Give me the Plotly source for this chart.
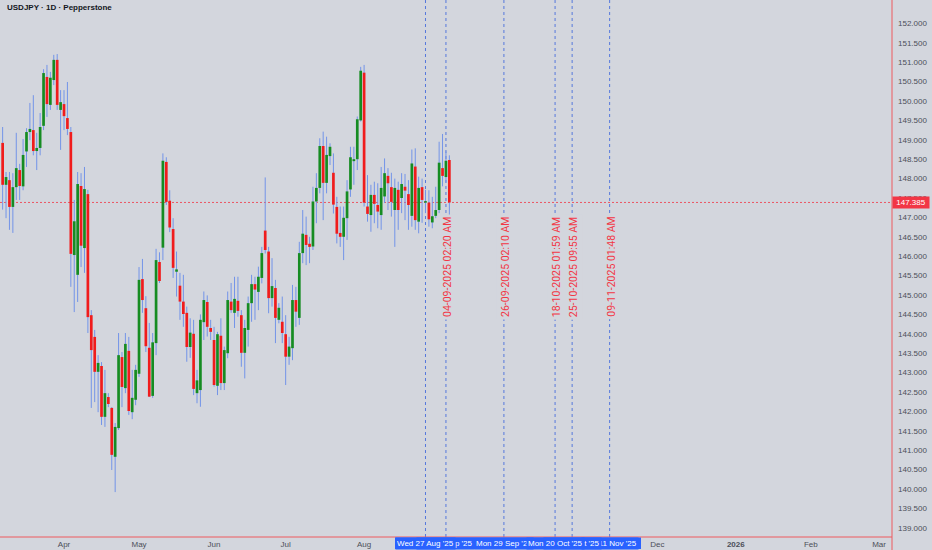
import pandas as pd
import plotly.graph_objects as go

TITLE = "USDJPY · 1D · Pepperstone"
START = "2025-03-06"
LAST_PRICE = 147.385

open_ = [
    148.92, 147.84, 147.96, 147.27, 147.78, 148.22, 147.80, 148.70, 149.20, 149.25, 148.71, 148.79,
    149.36, 150.62, 149.90, 150.54, 151.06, 149.77,
    149.92, 149.56, 149.20, 146.03, 145.52, 147.81, 146.21, 147.60, 144.48, 143.92, 143.02, 143.17,
    141.86, 142.37, 142.09, 140.83, 141.57, 143.40, 142.60, 143.56, 141.98, 142.30,
    142.97, 145.41, 144.66, 143.64, 142.40, 143.76, 145.85, 146.22, 148.43, 147.43, 146.70, 145.60,
    145.24, 144.83, 144.54, 143.66, 144.00, 142.47, 142.55, 144.30, 144.82, 144.15,
    143.84, 142.66, 143.95, 142.73, 143.50, 144.83, 144.54, 144.85, 144.48, 143.51, 144.10, 144.79,
    145.28, 145.08, 145.44, 146.66, 146.12, 144.92, 145.18, 144.36, 144.31,
    143.99, 143.41, 143.63, 144.87, 144.41, 146.08, 146.55, 146.32, 146.25, 147.41, 147.76, 148.84,
    147.89, 148.58, 148.15, 147.27, 146.60, 146.50, 146.98, 147.72, 148.45, 148.50, 149.50,
    150.73, 147.28, 147.06, 147.58, 147.32, 147.06, 147.54, 148.07, 147.78, 147.19, 147.71, 147.50,
    147.79, 147.60, 147.04, 148.31, 146.89, 147.78, 147.38, 147.38, 146.87,
    147.04, 147.19, 148.27, 148.04, 148.48,
]
high_ = [
    149.33, 148.17, 148.17, 148.14, 149.18, 148.38, 149.02, 149.30, 149.95, 150.15, 149.18, 149.69,
    150.82, 150.93, 150.75, 151.19, 151.21, 150.28,
    150.28, 150.49, 149.33, 147.45, 148.17, 148.14, 148.30, 147.71, 144.61, 144.10, 143.45, 143.27,
    143.07, 142.47, 142.11, 141.70, 144.02, 143.53, 144.02, 143.92, 143.07, 143.20,
    145.72, 145.93, 144.97, 144.28, 144.02, 146.19, 146.10, 148.65, 148.55, 147.70, 146.98, 146.12,
    145.57, 145.52, 144.70, 144.40, 144.36, 143.07, 144.50, 145.09, 144.99, 144.36,
    144.18, 144.05, 144.40, 143.67, 145.09, 145.31, 145.47, 145.47, 144.61, 144.36, 144.96, 145.52,
    145.47, 145.73, 146.24, 148.03, 146.24, 145.95, 145.39, 144.79, 144.96,
    144.48, 143.92, 145.26, 145.21, 146.37, 147.19, 147.02, 146.50, 147.79, 148.14, 149.04, 149.21,
    149.08, 148.91, 148.65, 147.53, 147.28, 147.28, 147.96, 148.82, 148.82, 149.60, 150.88,
    150.93, 148.09, 147.84, 147.92, 147.88, 148.30, 148.52, 148.27, 148.15, 148.00, 147.92, 148.14,
    148.12, 147.96, 148.75, 148.78, 148.05, 148.00, 147.71, 147.70, 147.53,
    147.79, 148.95, 149.15, 148.70, 148.60,
]
low_ = [
    147.20, 146.98, 146.68, 146.60, 147.45, 147.45, 147.70, 148.30, 148.99, 148.60, 148.22, 148.60,
    149.25, 149.59, 149.77, 150.41, 149.77, 148.74,
    149.25, 149.12, 145.21, 144.56, 144.82, 145.72, 145.57, 144.02, 142.09, 142.24, 141.98, 141.65,
    141.60, 142.11, 140.49, 139.92, 141.52, 142.11, 142.47, 141.91, 141.80, 142.16,
    142.89, 144.54, 143.53, 142.37, 142.35, 143.45, 145.31, 145.90, 147.32, 146.62, 145.44, 144.96,
    144.36, 144.18, 143.28, 143.38, 142.42, 142.21, 142.12, 143.84, 143.93, 143.84,
    142.64, 142.42, 142.55, 142.55, 143.37, 144.54, 144.15, 144.44, 143.15, 142.85, 143.67, 144.31,
    144.36, 144.61, 145.30, 146.07, 144.53, 144.70, 143.76, 144.27, 143.76,
    142.68, 143.20, 143.32, 144.18, 144.23, 145.82, 145.77, 145.82, 146.16, 146.85, 147.62, 146.93,
    147.62, 148.35, 147.10, 146.33, 146.24, 145.90, 146.42, 147.53, 147.84, 148.22, 149.47,
    147.28, 146.89, 146.63, 146.85, 146.72, 146.68, 147.37, 147.19, 147.02, 146.24, 146.68, 147.11,
    146.93, 146.68, 146.76, 146.68, 146.59, 146.86, 147.11, 146.76, 146.72,
    146.98, 147.11, 147.80, 147.90, 146.98,
]
close_ = [
    147.84, 148.04, 147.27, 147.78, 148.27, 147.81, 148.61, 149.20, 149.28, 148.71, 148.79, 149.33,
    150.72, 149.92, 150.60, 151.06, 149.90, 149.97,
    149.61, 149.28, 146.06, 146.90, 147.86, 146.27, 147.73, 144.43, 143.58, 143.02, 143.25, 141.86,
    142.47, 142.19, 140.88, 141.60, 143.45, 142.63, 143.74, 142.01, 142.35, 143.07,
    145.39, 144.87, 143.68, 142.38, 143.78, 145.90, 145.36, 148.46, 147.40, 146.74, 145.70, 145.66,
    144.83, 144.51, 143.66, 144.03, 142.58, 142.80, 144.36, 144.87, 144.18, 144.05,
    142.68, 143.99, 142.73, 143.58, 144.87, 144.61, 144.90, 144.59, 143.51, 144.15, 144.79, 145.28,
    145.14, 145.47, 146.08, 146.16, 144.92, 145.23, 144.41, 144.67, 144.02,
    143.41, 143.67, 144.87, 144.57, 146.08, 146.58, 146.29, 146.24, 147.41, 147.76, 148.84, 147.89,
    148.61, 148.82, 147.33, 146.58, 146.50, 146.99, 147.67, 148.55, 148.50, 149.53, 150.78,
    147.38, 147.09, 147.58, 147.35, 147.15, 147.76, 148.14, 147.88, 147.40, 147.76, 147.19, 147.86,
    147.69, 147.32, 148.39, 146.93, 147.76, 147.45, 147.42, 146.95, 147.03,
    147.19, 148.41, 148.07, 148.46, 147.385,
]

line_dates = ["2025-08-27", "2025-09-04", "2025-09-29", "2025-10-20", "2025-10-27", "2025-11-11"]
line_texts = ["", "04-09-2025 02:20 AM", "26-09-2025 02:10 AM", "18-10-2025 01:59 AM",
              "25-10-2025 09:55 AM", "09-11-2025 01:48 AM"]
line_axis_labels = ["Wed 27 Aug '25", "Thu 04 Sep '25", "Mon 29 Sep '25", "Mon 20 Oct '25",
                    "Mon 27 Oct '25", "Tue 11 Nov '25"]
label_draw_order = [5, 4, 2, 1, 3, 0]  # bottom-most first
LABEL_PRICE = 145.72

month_ticks = ["2025-04-01", "2025-05-01", "2025-06-02", "2025-07-01", "2025-08-01",
               "2025-12-01", "2026-01-01", "2026-02-02", "2026-03-02"]
month_labels = ["Apr", "May", "Jun", "Jul", "Aug", "Dec", "<b>2026</b>", "Feb", "Mar"]

price_ticks = [139.0 + 0.5 * i for i in range(28)]
price_labels = [f"{v:.3f}" for v in price_ticks]

# ---------------- styling ----------------
BG = "#d3d6dd"
UP = "#168c22"
DOWN = "#f01c1c"
WICK = "#7394e8"
RED = "#f23645"
DASH_BLUE = "#5578dc"
AXIS_TXT = "#4c4f59"
FONT = "Liberation Sans, Arial, sans-serif"
W, H = 932, 550
ML, MR, MT, MB = 0, 40, 0, 13
PW, PH = W - ML - MR, H - MT - MB
PX_PER_PRICE = 38.8
BODY_PX = 2.7

HALF = pd.Timedelta(hours=12)
DAY = pd.Timedelta(days=1)
dates = pd.bdate_range(START, periods=len(close_)) + HALF
all_days = pd.bdate_range(START, periods=262) + HALF
x_left = dates[0] - 0.77 * DAY
x_right = all_days[260] + 0.8 * DAY

fig = go.Figure()

# wicks
wx, wy = [], []
for d, lo, hi in zip(dates, low_, high_):
    wx += [d, d, None]
    wy += [lo, hi, None]
fig.add_trace(go.Scatter(x=wx, y=wy, mode="lines", line=dict(color=WICK, width=1),
                         hoverinfo="skip", showlegend=False))

# bodies (thick line segments, drawn after the wicks so they sit on top)
MIN_BODY = 0.03
for up, color in ((True, UP), (False, DOWN)):
    bx, by = [], []
    for d, o, c in zip(dates, open_, close_):
        if (c >= o) != up:
            continue
        lo, hi = min(o, c), max(o, c)
        if hi - lo < MIN_BODY:
            mid = (hi + lo) / 2
            lo, hi = mid - MIN_BODY / 2, mid + MIN_BODY / 2
        bx += [d, d, None]
        by += [lo, hi, None]
    fig.add_trace(go.Scatter(x=bx, y=by, mode="lines", line=dict(color=color, width=BODY_PX),
                             hoverinfo="skip", showlegend=False))

shapes = []
annotations = []

# last price line
shapes.append(dict(type="line", xref="paper", x0=0, x1=1, yref="y", y0=LAST_PRICE, y1=LAST_PRICE,
                   line=dict(color=RED, width=1, dash="2px,2px"), opacity=0.8, layer="below"))

# vertical dashed lines
for d in line_dates:
    xd = pd.Timestamp(d) + HALF
    shapes.append(dict(type="line", xref="x", x0=xd, x1=xd, yref="paper", y0=0, y1=1,
                       line=dict(color=DASH_BLUE, width=1, dash="3px,3px"), layer="below"))

for d, t in zip(line_dates, line_texts):
    if not t:
        continue
    xd = pd.Timestamp(d) + HALF
    annotations.append(dict(x=xd, y=LABEL_PRICE, xref="x", yref="y", text=t, textangle=-90,
                            showarrow=False, xanchor="center", yanchor="middle", xshift=1,
                            bgcolor=BG, borderpad=2,
                            font=dict(family="Roboto, sans-serif", size=10.5, color=RED)))

# frame lines (red)
shapes.append(dict(type="line", xref="paper", yref="paper", x0=0, x1=1, y0=0, y1=0,
                   line=dict(color="#ee5a5f", width=1), layer="above"))
shapes.append(dict(type="line", xref="paper", yref="paper", x0=1, x1=1, y0=-MB / PH, y1=1,
                   line=dict(color="#ee5a5f", width=1), layer="above"))

# blue time highlight box at bottom
shapes.append(dict(type="rect", xref="paper", yref="paper", x0=395 / PW, x1=641 / PW,
                   y0=-12 / PH, y1=-0.5 / PH, fillcolor="#2962ff", line=dict(width=0), layer="above"))
for i in label_draw_order:
    xd = pd.Timestamp(line_dates[i]) + HALF
    annotations.append(dict(x=xd, y=-6 / PH, xref="x", yref="paper", text=line_axis_labels[i],
                            showarrow=False, xanchor="center", yanchor="middle",
                            bgcolor="#2962ff", borderpad=1,
                            font=dict(family=FONT, size=8, color="white")))

# title
annotations.append(dict(x=5 / PW, y=1 - 7 / PH, xref="paper", yref="paper", text=f"<b>{TITLE}</b>",
                        showarrow=False, xanchor="left", yanchor="middle",
                        font=dict(family=FONT, size=8, color="#131722")))

# last price label
annotations.append(dict(x=1, y=LAST_PRICE, xref="paper", yref="y", text=f"{LAST_PRICE:.3f}",
                        showarrow=False, xanchor="left", yanchor="middle", bgcolor=RED, borderpad=1,
                        width=34, align="center",
                        font=dict(family=FONT, size=8, color="white")))

y_top = 152.5 + 4 / PX_PER_PRICE
y_bot = 152.5 - (PH - 4) / PX_PER_PRICE

fig.update_layout(
    width=W, height=H,
    margin=dict(l=ML, r=MR, t=MT, b=MB, pad=0, autoexpand=False),
    paper_bgcolor=BG, plot_bgcolor=BG,
    showlegend=False,
    shapes=shapes, annotations=annotations,
    xaxis=dict(type="date", range=[x_left, x_right], automargin=False,
               rangebreaks=[dict(bounds=["sat", "mon"])],
               tickvals=[pd.Timestamp(t) + HALF for t in month_ticks], ticktext=month_labels,
               showgrid=False, zeroline=False, showline=False, ticks="",
               ticklabelstandoff=1,
               tickfont=dict(family=FONT, size=8, color=AXIS_TXT)),
    yaxis=dict(side="right", range=[y_bot, y_top], automargin=False,
               tickvals=price_ticks, ticktext=price_labels,
               showgrid=False, zeroline=False, showline=False, ticks="",
               ticklabelstandoff=5,
               tickfont=dict(family=FONT, size=8, color=AXIS_TXT)),
)

fig.write_html(
    "out.html",
    config={"displayModeBar": False},
    post_script="document.body.style.margin='0';document.body.style.background='%s';"
                "document.body.style.overflow='hidden';" % BG,
)
